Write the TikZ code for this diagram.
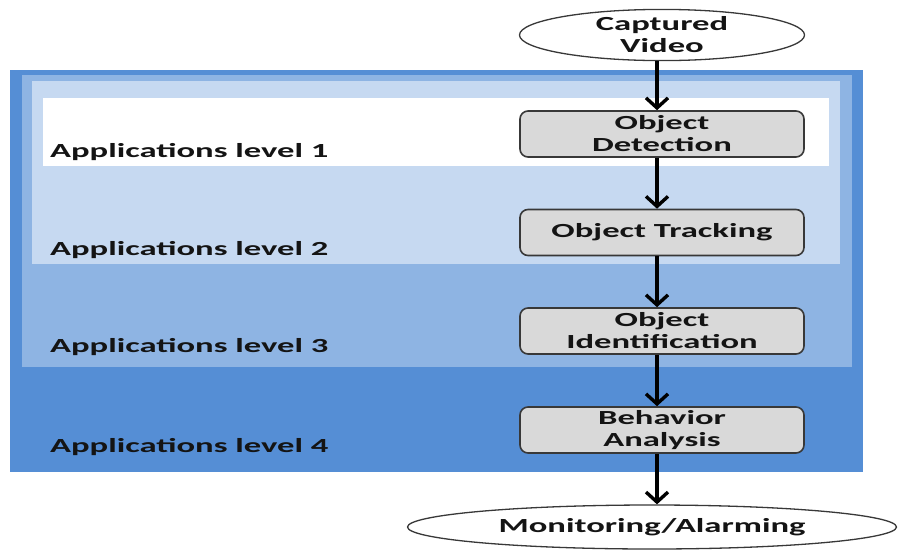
\documentclass[tikz,border=0pt]{standalone}
\usepackage{fontspec}
\setmainfont{Carlito}[FakeStretch=1.73]
\usetikzlibrary{shapes.geometric,arrows.meta}
\definecolor{lvfour}{RGB}{85,142,213}
\definecolor{lvthree}{RGB}{142,180,227}
\definecolor{lvtwo}{RGB}{198,217,241}
\definecolor{boxfill}{RGB}{217,217,217}
\definecolor{edgegray}{RGB}{56,56,56}
\definecolor{txt}{RGB}{20,20,20}
\begin{document}
\begin{tikzpicture}[x=1pt,y=-1pt,
  every node/.style={font=\fontsize{20}{22}\selectfont\bfseries, text=txt},
  stepbox/.style={draw=edgegray, line width=1.6pt, fill=boxfill, rounded corners=8pt,
    minimum width=284pt, minimum height=46pt, inner sep=0pt, align=center},
  oval/.style={ellipse, draw=edgegray, line width=1.3pt, fill=white, inner sep=0pt, align=center},
  lvlabel/.style={anchor=base west, inner sep=0pt},
  arr/.style={line width=3.4pt, -{Straight Barb[length=10pt, width=22pt]}}]
\useasboundingbox (0,0) rectangle (898,550);
% level bands
\fill[lvfour] (10,70) rectangle (863,472);
\fill[lvthree] (22,75) rectangle (852,367);
\fill[lvtwo] (32,81) rectangle (840,264);
\fill[white] (43,98) rectangle (829,166);
% level labels
\node[lvlabel] (l1) at (50,157) {Applications level 1};
\node[lvlabel] (l2) at (50,255) {Applications level 2};
\node[lvlabel] (l3) at (50,352) {Applications level 3};
\node[lvlabel] (l4) at (50,452) {Applications level 4};
% nodes
\node[oval, minimum width=285pt, minimum height=46pt] (cv) at (662,35) {Captured\\Video};
\node[stepbox] (od) at (662,134) {Object\\Detection};
\node[stepbox] (ot) at (662,232.5) {Object Tracking};
\node[stepbox] (oi) at (662,331) {Object\\Identification};
\node[stepbox] (ba) at (662,430) {Behavior\\Analysis};
\node[oval, minimum width=489pt, minimum height=44pt] (ma) at (652,527) {Monitoring/Alarming};
% connectors
\draw[arr] ([xshift=-5pt]cv.south) -- ([xshift=-5pt]od.north);
\draw[arr] ([xshift=-5pt]od.south) -- ([xshift=-5pt]ot.north);
\draw[arr] ([xshift=-5pt]ot.south) -- ([xshift=-5pt]oi.north);
\draw[arr] ([xshift=-5pt]oi.south) -- ([xshift=-5pt]ba.north);
\draw[arr] ([xshift=-5pt]ba.south) -- ([xshift=5pt]ma.north);
\end{tikzpicture}
\end{document}
